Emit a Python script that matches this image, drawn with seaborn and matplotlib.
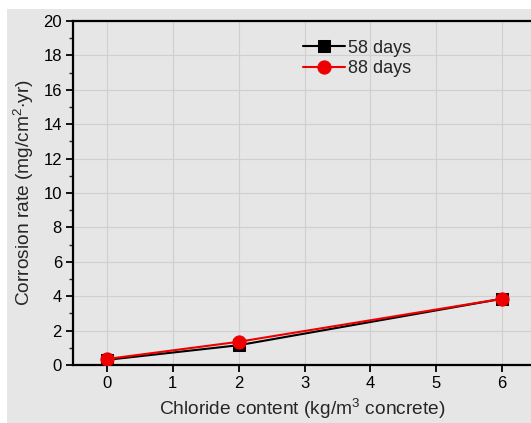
import matplotlib
matplotlib.use("Agg")
import matplotlib.pyplot as plt
import seaborn as sns
import pandas as pd
from matplotlib.ticker import MultipleLocator
from matplotlib.patches import Rectangle

chloride = [0, 2, 6]
days58 = [0.30, 1.15, 3.85]
days88 = [0.35, 1.35, 3.85]
series_names = ["58 days", "88 days"]

sns.set_theme(style="ticks")
plt.rcParams['font.family'] = ['Liberation Sans', 'DejaVu Sans']
plt.rcParams['mathtext.fontset'] = 'custom'
plt.rcParams['mathtext.rm'] = 'Liberation Sans'

bg = "#e6e6e6"
fig = plt.figure(figsize=(5.31, 4.23), dpi=100)
fig.patch.set_facecolor("white")
fig.patches.append(Rectangle((7/531, 0), 1, 1 - 9/423, transform=fig.transFigure,
                             facecolor=bg, edgecolor="none", zorder=-10))
ax = fig.add_axes([73/531, 1 - 365/423, 1 - 73/531, (365 - 21)/423])
ax.set_facecolor(bg)

df1 = pd.DataFrame({"x": chloride, "y": days58})
df2 = pd.DataFrame({"x": chloride, "y": days88})
sns.lineplot(data=df1, x="x", y="y", ax=ax, color="black", marker="s", markersize=8.5,
             markeredgecolor="black", linewidth=1.5, label=series_names[0], zorder=3)
sns.lineplot(data=df2, x="x", y="y", ax=ax, color="#ee0000", marker="o", markersize=9.5,
             markeredgecolor="#ee0000", linewidth=1.5, label=series_names[1], zorder=4)

ax.set_xlim(-0.516, 6.44)
ax.set_ylim(0, 20)
ax.xaxis.set_major_locator(MultipleLocator(1))
ax.yaxis.set_major_locator(MultipleLocator(2))
ax.yaxis.set_minor_locator(MultipleLocator(1))
ax.grid(True, which="major", color="#cfcfcf", linewidth=0.8)
ax.set_axisbelow(True)

for s in ["left", "bottom", "top"]:
    ax.spines[s].set_color("black")
    ax.spines[s].set_linewidth(1.6)
ax.spines["right"].set_visible(False)

ax.tick_params(axis="both", which="major", direction="out", length=5, width=1.3,
               labelsize=12, colors="black", pad=3)
ax.tick_params(axis="y", which="minor", direction="out", length=3, width=1.0)
ax.tick_params(axis="x", which="minor", bottom=False)

ax.set_xlabel("Chloride content (kg/m$^3$ concrete)", fontsize=13.8, labelpad=4)
ax.set_ylabel("Corrosion rate (mg/cm$^2$$\\cdot$yr)", fontsize=13.8, labelpad=5)

leg = ax.legend(loc="upper left", bbox_to_anchor=(0.487, 0.967), frameon=False,
                fontsize=13, handlelength=2.3, handletextpad=0.2, labelspacing=0.2,
                borderaxespad=0)

fig.savefig("out.png", dpi=100)
